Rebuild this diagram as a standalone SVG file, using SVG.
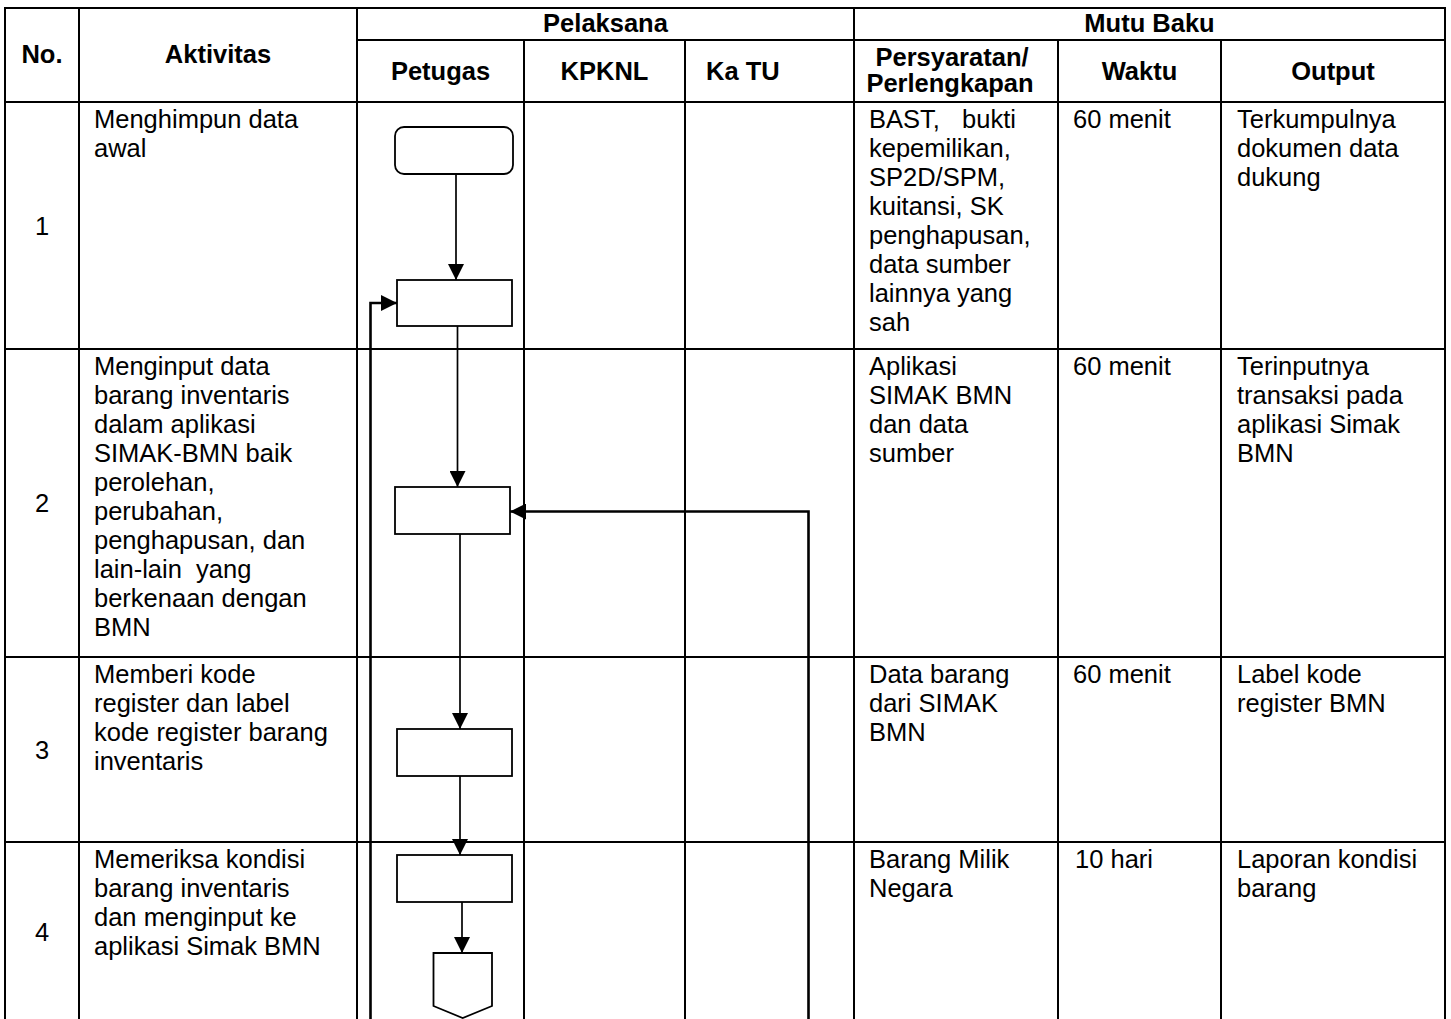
<svg xmlns="http://www.w3.org/2000/svg" width="1451" height="1019" viewBox="0 0 1451 1019">
<style>
.g{stroke:#000;stroke-width:2;fill:none}
.t{font-family:"Liberation Sans",Arial,sans-serif;font-size:25.5px;fill:#000}
.h{font-family:"Liberation Sans",Arial,sans-serif;font-size:25.5px;font-weight:bold;fill:#000}
.c{text-anchor:middle}
.box{fill:#fff;stroke:#000;stroke-width:1.8}
.ln{fill:none;stroke:#000;stroke-width:1.7}
.lp{fill:none;stroke:#000;stroke-width:2.6}
</style>
<defs>
<marker id="ah" markerUnits="userSpaceOnUse" markerWidth="16" markerHeight="16" viewBox="0 0 14 14" refX="14" refY="7" orient="auto">
<path d="M0,0 L14,7 L0,14 z" fill="#000"/>
</marker>
</defs>
<rect width="1451" height="1019" fill="#fff"/>
<g id="table">
<path class="g" d="M5,8 H1445 M357,40 H1445 M5,102 H1445 M5,349 H1445 M5,657 H1445 M5,842 H1445"/>
<path class="g" d="M5,7 V1019 M79,8 V1019 M357,8 V1019 M854,8 V1019 M1445,7 V1019 M524,40 V1019 M685,40 V1019 M1058,40 V1019 M1221,40 V1019"/>
</g>
<g id="header">
<text class="h c" x="42" y="63">No.</text>
<text class="h c" x="218" y="63">Aktivitas</text>
<text class="h c" x="605.5" y="32">Pelaksana</text>
<text class="h c" x="1149.5" y="32">Mutu Baku</text>
<text class="h c" x="440.5" y="80">Petugas</text>
<text class="h c" x="604.5" y="80">KPKNL</text>
<text class="h" x="706" y="80">Ka TU</text>
<text class="h c" x="952" y="66">Persyaratan/</text>
<text class="h c" x="950" y="92">Perlengkapan</text>
<text class="h c" x="1139.5" y="80">Waktu</text>
<text class="h c" x="1333" y="80">Output</text>
</g>
<g id="row1">
<text class="t c" x="42" y="235">1</text>
<text class="t" x="94"><tspan x="94" y="128">Menghimpun data</tspan><tspan x="94" y="157">awal</tspan></text>
<text class="t" x="869" xml:space="preserve"><tspan x="869" y="128" word-spacing="4">BAST,  bukti</tspan><tspan x="869" y="157">kepemilikan,</tspan><tspan x="869" y="186">SP2D/SPM,</tspan><tspan x="869" y="215">kuitansi, SK</tspan><tspan x="869" y="244">penghapusan,</tspan><tspan x="869" y="273">data sumber</tspan><tspan x="869" y="302">lainnya yang</tspan><tspan x="869" y="331">sah</tspan></text>
<text class="t" x="1073" y="128">60 menit</text>
<text class="t" x="1237"><tspan x="1237" y="128">Terkumpulnya</tspan><tspan x="1237" y="157">dokumen data</tspan><tspan x="1237" y="186">dukung</tspan></text>
</g>
<g id="row2">
<text class="t c" x="42" y="512">2</text>
<text class="t" x="94" xml:space="preserve"><tspan x="94" y="375">Menginput data</tspan><tspan x="94" y="404">barang inventaris</tspan><tspan x="94" y="433">dalam aplikasi</tspan><tspan x="94" y="462">SIMAK-BMN baik</tspan><tspan x="94" y="491">perolehan,</tspan><tspan x="94" y="520">perubahan,</tspan><tspan x="94" y="549">penghapusan, dan</tspan><tspan x="94" y="578">lain-lain  yang</tspan><tspan x="94" y="607">berkenaan dengan</tspan><tspan x="94" y="636">BMN</tspan></text>
<text class="t" x="869"><tspan x="869" y="375">Aplikasi</tspan><tspan x="869" y="404">SIMAK BMN</tspan><tspan x="869" y="433">dan data</tspan><tspan x="869" y="462">sumber</tspan></text>
<text class="t" x="1073" y="375">60 menit</text>
<text class="t" x="1237"><tspan x="1237" y="375">Terinputnya</tspan><tspan x="1237" y="404">transaksi pada</tspan><tspan x="1237" y="433">aplikasi Simak</tspan><tspan x="1237" y="462">BMN</tspan></text>
</g>
<g id="row3">
<text class="t c" x="42" y="759">3</text>
<text class="t" x="94"><tspan x="94" y="683">Memberi kode</tspan><tspan x="94" y="712">register dan label</tspan><tspan x="94" y="741">kode register barang</tspan><tspan x="94" y="770">inventaris</tspan></text>
<text class="t" x="869"><tspan x="869" y="683">Data barang</tspan><tspan x="869" y="712">dari SIMAK</tspan><tspan x="869" y="741">BMN</tspan></text>
<text class="t" x="1073" y="683">60 menit</text>
<text class="t" x="1237"><tspan x="1237" y="683">Label kode</tspan><tspan x="1237" y="712">register BMN</tspan></text>
</g>
<g id="row4">
<text class="t c" x="42" y="941">4</text>
<text class="t" x="94"><tspan x="94" y="868">Memeriksa kondisi</tspan><tspan x="94" y="897">barang inventaris</tspan><tspan x="94" y="926">dan menginput ke</tspan><tspan x="94" y="955">aplikasi Simak BMN</tspan></text>
<text class="t" x="869"><tspan x="869" y="868">Barang Milik</tspan><tspan x="869" y="897">Negara</tspan></text>
<text class="t" x="1075" y="868">10 hari</text>
<text class="t" x="1237"><tspan x="1237" y="868">Laporan kondisi</tspan><tspan x="1237" y="897">barang</tspan></text>
</g>
<g id="connectors">
<path class="ln" d="M456,174 V280" marker-end="url(#ah)"/>
<path class="ln" d="M457.5,326 V487" marker-end="url(#ah)"/>
<path class="ln" d="M460,534 V729" marker-end="url(#ah)"/>
<path class="ln" d="M460,776 V855" marker-end="url(#ah)"/>
<path class="ln" d="M462,902 V953" marker-end="url(#ah)"/>
<path class="lp" d="M370.5,1019 V303 H397" marker-end="url(#ah)"/>
<path class="lp" d="M808.5,1019 V511.5 H510" marker-end="url(#ah)"/>
</g>
<g id="n1"><rect class="box" x="395" y="127" width="118" height="47" rx="9"/></g>
<g id="n2"><rect class="box" x="397" y="280" width="115" height="46"/></g>
<g id="n3"><rect class="box" x="395" y="487" width="115" height="47"/></g>
<g id="n4"><rect class="box" x="397" y="729" width="115" height="47"/></g>
<g id="n5"><rect class="box" x="397" y="855" width="115" height="47"/></g>
<g id="n6"><polygon class="box" points="433.5,953 492,953 492,1006 462.7,1018 433.5,1006"/></g>
</svg>
